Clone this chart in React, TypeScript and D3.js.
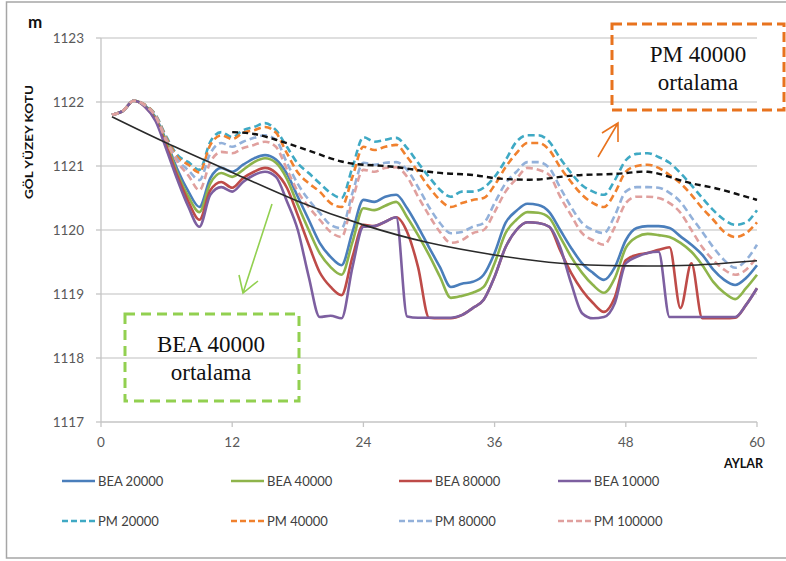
import React from "react";
import * as d3 from "d3";

const months = d3.range(1, 61);

const bea20000 = [1121.80,1121.86,1122.02,1121.95,1121.76,1121.38,1120.94,1120.60,1120.36,1120.81,1120.97,1120.91,1121.02,1121.12,1121.17,1121.10,1120.88,1120.52,1120.16,1119.80,1119.58,1119.45,1119.97,1120.47,1120.44,1120.52,1120.55,1120.34,1120.05,1119.73,1119.42,1119.11,1119.16,1119.19,1119.30,1119.64,1120.11,1120.30,1120.41,1120.39,1120.28,1120.00,1119.72,1119.48,1119.33,1119.22,1119.42,1119.84,1120.03,1120.06,1120.06,1120.03,1119.90,1119.77,1119.61,1119.38,1119.22,1119.14,1119.25,1119.45];
const bea40000 = [1121.80,1121.86,1122.02,1121.94,1121.74,1121.35,1120.88,1120.52,1120.28,1120.73,1120.89,1120.83,1120.94,1121.06,1121.12,1121.05,1120.80,1120.39,1120.00,1119.64,1119.42,1119.30,1119.81,1120.34,1120.31,1120.38,1120.44,1120.20,1119.92,1119.61,1119.27,1118.94,1118.97,1119.02,1119.11,1119.48,1119.95,1120.16,1120.28,1120.27,1120.19,1119.89,1119.58,1119.33,1119.14,1119.02,1119.25,1119.72,1119.89,1119.94,1119.92,1119.89,1119.80,1119.66,1119.45,1119.19,1119.02,1118.92,1119.09,1119.30];
const bea80000 = [1121.80,1121.86,1122.02,1121.93,1121.72,1121.30,1120.84,1120.44,1120.16,1120.62,1120.75,1120.66,1120.81,1120.91,1120.97,1120.89,1120.66,1120.23,1119.77,1119.34,1119.11,1118.98,1119.58,1120.08,1120.06,1120.13,1120.20,1119.97,1119.42,1118.63,1118.62,1118.62,1118.67,1118.78,1118.91,1119.27,1119.73,1120.00,1120.12,1120.11,1120.05,1119.68,1119.33,1119.06,1118.86,1118.72,1118.95,1119.53,1119.61,1119.64,1119.69,1119.73,1118.78,1119.48,1118.62,1118.62,1118.62,1118.63,1118.83,1119.09];
const bea10000 = [1121.80,1121.86,1122.02,1121.93,1121.70,1121.25,1120.78,1120.36,1120.05,1120.55,1120.67,1120.60,1120.75,1120.86,1120.91,1120.83,1120.45,1120.00,1119.27,1118.64,1118.66,1118.62,1119.42,1120.05,1120.06,1120.13,1120.20,1118.65,1118.63,1118.63,1118.63,1118.63,1118.67,1118.78,1118.91,1119.27,1119.73,1120.00,1120.12,1120.11,1120.05,1119.73,1119.17,1118.70,1118.62,1118.64,1118.86,1119.48,1119.58,1119.64,1119.66,1118.64,1118.64,1118.64,1118.64,1118.64,1118.64,1118.64,1118.83,1119.09];
const pm20000 = [1121.80,1121.86,1122.02,1121.96,1121.80,1121.45,1121.17,1121.06,1120.94,1121.38,1121.53,1121.45,1121.56,1121.61,1121.67,1121.56,1121.30,1121.04,1120.89,1120.73,1120.58,1120.50,1120.98,1121.45,1121.38,1121.41,1121.44,1121.28,1121.05,1120.83,1120.63,1120.52,1120.60,1120.60,1120.66,1120.83,1121.09,1121.38,1121.48,1121.48,1121.38,1121.12,1120.89,1120.70,1120.60,1120.55,1120.78,1121.09,1121.19,1121.20,1121.14,1121.05,1120.89,1120.70,1120.50,1120.31,1120.16,1120.08,1120.12,1120.31];
const pm40000 = [1121.80,1121.86,1122.02,1121.96,1121.79,1121.43,1121.14,1121.02,1120.90,1121.33,1121.48,1121.42,1121.52,1121.56,1121.61,1121.52,1121.20,1120.90,1120.73,1120.60,1120.42,1120.36,1120.83,1121.30,1121.25,1121.30,1121.33,1121.14,1120.91,1120.67,1120.47,1120.36,1120.42,1120.47,1120.50,1120.70,1120.98,1121.20,1121.36,1121.36,1121.25,1120.98,1120.75,1120.55,1120.42,1120.36,1120.58,1120.91,1121.00,1121.02,1120.97,1120.86,1120.73,1120.55,1120.34,1120.16,1119.97,1119.89,1119.95,1120.12];
const pm80000 = [1121.80,1121.86,1122.02,1121.95,1121.78,1121.40,1121.10,1120.93,1120.78,1121.20,1121.36,1121.30,1121.38,1121.44,1121.48,1121.41,1121.05,1120.72,1120.47,1120.27,1120.08,1120.03,1120.58,1121.05,1121.02,1121.05,1121.06,1120.94,1120.67,1120.36,1120.11,1119.95,1119.97,1120.05,1120.11,1120.42,1120.73,1120.91,1121.06,1121.06,1120.97,1120.66,1120.36,1120.11,1120.00,1119.95,1120.23,1120.60,1120.67,1120.67,1120.66,1120.58,1120.44,1120.20,1119.97,1119.73,1119.53,1119.41,1119.53,1119.77];
const pm100000 = [1121.80,1121.86,1122.02,1121.95,1121.77,1121.38,1121.06,1120.85,1120.62,1121.06,1121.22,1121.20,1121.28,1121.33,1121.38,1121.30,1120.95,1120.60,1120.36,1120.16,1119.97,1119.89,1120.47,1120.94,1120.91,1120.97,1120.98,1120.83,1120.52,1120.23,1119.97,1119.80,1119.84,1119.95,1120.00,1120.28,1120.60,1120.80,1120.97,1120.94,1120.86,1120.52,1120.23,1119.95,1119.84,1119.77,1120.05,1120.42,1120.52,1120.52,1120.50,1120.42,1120.27,1120.00,1119.73,1119.53,1119.38,1119.30,1119.38,1119.58];

const pmAvgMonths = [12,14,16,18,20,22,24,26,28,30,32,34,36,38,40,42,44,46,48,50,52,54,56,58,60];
const pmAvgValues = [1121.53,1121.50,1121.41,1121.30,1121.18,1121.07,1121.02,1121.00,1120.96,1120.91,1120.88,1120.86,1120.81,1120.79,1120.79,1120.83,1120.86,1120.87,1120.89,1120.91,1120.83,1120.73,1120.66,1120.57,1120.47];
const beaAvgMonths = [1,6,12,18,24,30,36,42,48,54,60];
const beaAvgValues = [1121.77,1121.36,1120.90,1120.45,1120.08,1119.80,1119.61,1119.48,1119.44,1119.45,1119.52];

const yTicks = [1117,1118,1119,1120,1121,1122,1123];
const xTicks = [0,12,24,36,48,60];

const seriesNames = ["BEA 20000","BEA 40000","BEA 80000","BEA 10000","PM 20000","PM 40000","PM 80000","PM 100000"];
const seriesValues = [bea20000,bea40000,bea80000,bea10000,pm20000,pm40000,pm80000,pm100000];
const seriesColors = ["#4A7EBB","#8EB44B","#BE4B48","#7D5FA0","#3FA9C4","#F0812E","#93B1DA","#E0A09E"];
const seriesDashed = [false,false,false,false,true,true,true,true];

export default function App() {
  const W = 786, H = 561;
  const x = d3.scaleLinear().domain([0, 60]).range([101, 757]);
  const y = d3.scaleLinear().domain([1117, 1123]).range([422, 38]);

  const line = d3.line<[number, number]>()
    .x(d => x(d[0])).y(d => y(d[1]))
    .curve(d3.curveMonotoneX);
  const smooth = d3.line<[number, number]>()
    .x(d => x(d[0])).y(d => y(d[1]))
    .curve(d3.curveNatural);

  const font = "Lato, 'Open Sans', sans-serif";
  const legendCols = [62, 231, 399, 558];
  const legendRows = [481, 521];

  return (
    <svg width={W} height={H} style={{ position: "absolute", left: 0, top: 0, background: "#fff" }}>
      <rect x={0} y={0} width={W} height={H} fill="#fff" />
      {/* frame */}
      <path d={`M786,2 H6.5 V558 H786`} fill="none" stroke="#a6a6a6" strokeWidth={1.5} />

      {/* gridlines */}
      {yTicks.filter(t => t > 1117).map(t => (
        <line key={t} x1={x(0)} x2={x(60)} y1={y(t)} y2={y(t)} stroke="#d4d4d4" strokeWidth={1.3} />
      ))}
      {/* axes */}
      <line x1={x(0)} x2={x(0)} y1={y(1123)} y2={y(1117)} stroke="#c4c4c4" strokeWidth={1.3} />
      <line x1={x(0)} x2={x(60)} y1={y(1117)} y2={y(1117)} stroke="#c4c4c4" strokeWidth={1.3} />
      {yTicks.map(t => (
        <g key={t}>
          <line x1={x(0) - 5} x2={x(0)} y1={y(t)} y2={y(t)} stroke="#c4c4c4" strokeWidth={1.3} />
          <text x={84} y={y(t) + 4.5} textAnchor="end" fontFamily={font} fontSize={13.5} fill="#595959">{t}</text>
        </g>
      ))}
      {xTicks.map(t => (
        <g key={t}>
          <line x1={x(t)} x2={x(t)} y1={y(1117)} y2={y(1117) + 5} stroke="#c4c4c4" strokeWidth={1.3} />
          <text x={x(t)} y={447} textAnchor="middle" fontFamily={font} fontSize={13.5} fill="#595959">{t}</text>
        </g>
      ))}

      <text x={35} y={28} textAnchor="middle" fontFamily={font} fontWeight={700} fontSize={17} fill="#111">m</text>
      <text transform="translate(33,142) rotate(-90)" textAnchor="middle" fontFamily={font} fontWeight={700} fontSize={11} fill="#111" textLength={114} lengthAdjust="spacingAndGlyphs">GÖL YÜZEY KOTU</text>
      <text x={763} y={468} textAnchor="end" fontFamily={font} fontWeight={700} fontSize={12.5} fill="#111">AYLAR</text>

      {/* series */}
      {seriesValues.map((vals, i) => (
        <path key={seriesNames[i]}
          d={line(months.map((m, j) => [m, vals[j]] as [number, number])) || ""}
          fill="none" stroke={seriesColors[i]} strokeWidth={2.6}
          strokeDasharray={seriesDashed[i] ? "7,4" : undefined}
          strokeLinejoin="round" />
      ))}

      {/* averages */}
      <path d={smooth(pmAvgMonths.map((m, j) => [m, pmAvgValues[j]] as [number, number])) || ""}
        fill="none" stroke="#111" strokeWidth={2.4} strokeDasharray="6,4" />
      <path d={smooth(beaAvgMonths.map((m, j) => [m, beaAvgValues[j]] as [number, number])) || ""}
        fill="none" stroke="#2a2a2a" strokeWidth={1.6} />

      {/* legend */}
      {seriesNames.map((name, i) => {
        const cx = legendCols[i % 4];
        const cy = legendRows[Math.floor(i / 4)];
        return (
          <g key={name}>
            <line x1={cx} x2={cx + 33} y1={cy} y2={cy} stroke={seriesColors[i]} strokeWidth={2.6}
              strokeDasharray={seriesDashed[i] ? "6,3" : undefined} />
            <text x={cx + 36} y={cy + 4.5} fontFamily={font} fontSize={13} fill="#404040">{name}</text>
          </g>
        );
      })}

      {/* PM annotation */}
      <rect x={612} y={24} width={172} height={86} fill="none" stroke="#E8731E" strokeWidth={3} strokeDasharray="10,5" />
      <text x={698} y={62} textAnchor="middle" fontFamily="'Liberation Serif', serif" fontSize={23} fill="#111">PM 40000</text>
      <text x={698} y={90} textAnchor="middle" fontFamily="'Liberation Serif', serif" fontSize={23} fill="#111">ortalama</text>
      <path d="M598,157 L618,123 M602,133 L618,123 L618,142" fill="none" stroke="#E8731E" strokeWidth={1.6} />

      {/* BEA annotation */}
      <rect x={125} y={314} width={174} height={87} fill="none" stroke="#92D050" strokeWidth={3} strokeDasharray="10,6" />
      <text x={211} y={352} textAnchor="middle" fontFamily="'Liberation Serif', serif" fontSize={23} fill="#111">BEA 40000</text>
      <text x={211} y={380} textAnchor="middle" fontFamily="'Liberation Serif', serif" fontSize={23} fill="#111">ortalama</text>
      <path d="M272,204 L243,293 M239,275 L243,293 L258,281" fill="none" stroke="#92D050" strokeWidth={1.6} />
    </svg>
  );
}
